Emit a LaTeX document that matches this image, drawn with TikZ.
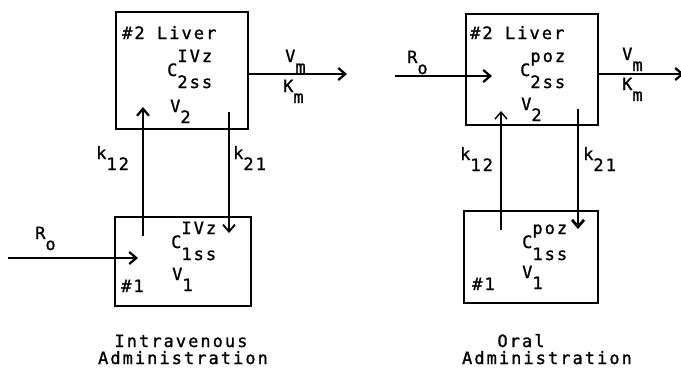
\documentclass[tikz,border=0pt]{standalone}
\usepackage{fontspec}
\setmainfont{DejaVu Sans Mono}[LetterSpace=12,FakeBold=1.2]
\usetikzlibrary{arrows.meta}
\newcommand{\dn}[2]{#1\raisebox{-11pt}{#2}}
\newcommand{\conc}[2]{C\raisebox{-12pt}{\rlap{\raisebox{26pt}{#1}}#2}}
\begin{document}
\begin{tikzpicture}[x=1pt,y=-1pt,every node/.style={font=\fontsize{17}{19}\selectfont,inner sep=0pt,anchor=base west},
  comp/.style={draw,line width=2.8pt,anchor=center},
  arr/.style={-{Straight Barb[length=7pt,width=12pt]},line width=2.3pt}]
\useasboundingbox (0,0) rectangle (681,368);
% intravenous
\node[comp,minimum width=132pt,minimum height=117pt] (ivliv) at (182,70.5) {};
\node[comp,minimum width=136pt,minimum height=89pt] (ivpl) at (183,261.5) {};
\node (ivname) at (122,39) {\#2 Liver};
\node (ivc2) at (167,76) {\conc{IVz}{2ss}};
\node (ivv2) at (170,112) {\dn{V}{2}};
\node (ivk12) at (96,159) {\dn{k}{12}};
\node (ivk21) at (233,159) {\dn{k}{21}};
\node (ivvm) at (285,62) {\dn{V}{m}};
\node (ivkm) at (283,92) {\dn{K}{m}};
\node (ivro) at (35,239) {\dn{R}{o}};
\node (ivc1) at (171,248) {\conc{IVz}{1ss}};
\node (ivno) at (121,292) {\#1};
\node (ivv1) at (172,280) {\dn{V}{1}};
\node[anchor=base] (ivcap) at (181,347) {Intravenous};
\node[anchor=base] (ivcapb) at (183,364) {Administration};
\coordinate (ivin) at (8,258);
\coordinate (ivinT) at (138,258);
\coordinate (ivupS) at (143,236);
\coordinate (ivupT) at (143,107);
\coordinate (ivdnS) at (229,112);
\coordinate (ivdnT) at (229,233);
\coordinate (ivout) at (347,74);
\draw[arr] (ivin)--(ivinT);
\draw[arr] (ivupS)--(ivupT);
\draw[arr,line width=1.8pt] (ivdnS)--(ivdnT);
\draw[arr] (ivliv.east|-ivout)--(ivout);
% oral
\node[comp,minimum width=132pt,minimum height=111pt] (poliv) at (532,69.5) {};
\node[comp,minimum width=134pt,minimum height=92pt] (popl) at (531,257) {};
\node (poname) at (470,39) {\#2 Liver};
\node (poc2) at (520,76) {\conc{poz}{2ss}};
\node (pov2) at (521,110) {\dn{V}{2}};
\node (pok12) at (460,160) {\dn{k}{12}};
\node (pok21) at (583,160) {\dn{k}{21}};
\node (povm) at (622,60) {\dn{V}{m}};
\node (pokm) at (622,90) {\dn{K}{m}};
\node (poro) at (407,63) {\dn{R}{o}};
\node (poc1) at (522,248) {\conc{poz}{1ss}};
\node (pono) at (472,290) {\#1};
\node (pov1) at (522,278) {\dn{V}{1}};
\node[anchor=base] (pocap) at (521,347) {Oral};
\node[anchor=base] (pocapb) at (547,364) {Administration};
\coordinate (poin) at (395,76);
\coordinate (poinT) at (492,76);
\coordinate (poupS) at (501,230);
\coordinate (poupT) at (501,111);
\coordinate (podnS) at (578,109);
\coordinate (podnT) at (578,229);
\coordinate (poout) at (684,74);
\draw[arr] (poin)--(poinT);
\draw[arr,line width=1.4pt] (poupS)--(poupT);
\draw[arr,line width=2.8pt] (podnS)--(podnT);
\draw[arr] (poliv.east|-poout)--(poout);
\end{tikzpicture}
\end{document}
